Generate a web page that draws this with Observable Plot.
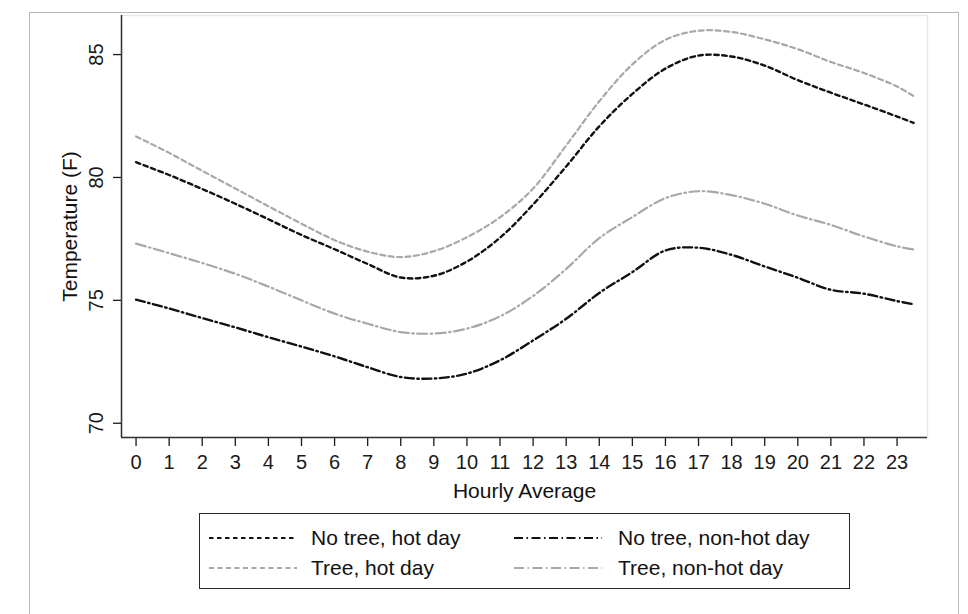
<!DOCTYPE html>
<html>
<head>
<meta charset="utf-8">
<script src="https://cdn.jsdelivr.net/npm/d3@7"></script>
<script src="https://cdn.jsdelivr.net/npm/@observablehq/plot@0.6"></script>
<style>
  html, body { margin: 0; padding: 0; background: #fff; overflow: hidden; }
  #wrap { position: relative; width: 968px; height: 614px; font-family: "Liberation Sans", Arial, Helvetica, sans-serif; }
  #border { position: absolute; left: 29px; top: 12px; width: 928px; height: 700px; border: 1.5px solid #b8b8b8; }
  #chart { position: absolute; left: 0; top: 0; }
  #legend { position: absolute; left: 199px; top: 513px; width: 649px; height: 74px; border: 1.4px solid #2a2a2a; background: #fff; }
  .item { position: absolute; font-size: 21px; color: #111; white-space: nowrap; }
</style>
</head>
<body>
<div id="wrap">
  <div id="border"></div>
  <div id="chart"></div>
  <div id="legend"></div>
</div>
<script>
// ---- data ----
const hours = [0,1,2,3,4,5,6,7,8,9,10,11,12,13,14,15,16,17,18,19,20,21,22,23,23.5];
const noTreeHot    = [80.62,80.10,79.53,78.93,78.30,77.66,77.08,76.48,75.93,76.00,76.58,77.55,78.90,80.45,82.08,83.40,84.43,84.96,84.92,84.55,83.96,83.45,82.97,82.48,82.22];
const noTreeNonHot = [75.03,74.67,74.28,73.90,73.50,73.12,72.72,72.28,71.88,71.82,72.02,72.56,73.37,74.25,75.30,76.15,77.03,77.14,76.85,76.38,75.92,75.43,75.27,74.97,74.84];
const treeHot      = [81.67,81.00,80.27,79.55,78.83,78.12,77.45,76.98,76.76,77.00,77.57,78.38,79.55,81.30,83.10,84.60,85.60,85.97,85.92,85.62,85.22,84.70,84.25,83.70,83.31];
const treeNonHot   = [77.31,76.92,76.52,76.08,75.56,75.00,74.46,74.05,73.71,73.65,73.85,74.35,75.18,76.28,77.53,78.39,79.16,79.44,79.28,78.93,78.45,78.07,77.60,77.20,77.07];
const seriesNames  = ["No tree, hot day", "No tree, non-hot day", "Tree, hot day", "Tree, non-hot day"];
const xTicks = [0,1,2,3,4,5,6,7,8,9,10,11,12,13,14,15,16,17,18,19,20,21,22,23];
const yTicks = [70,75,80,85];
const xTitle = "Hourly Average";
const yTitle = "Temperature (F)";
const xDomain = [-0.44, 23.92];
const yDomain = [69.42, 86.59];

// ---- styles per series ----
const styles = [
  {stroke: "#111", dash: "4.5,3.5", width: 2.4},
  {stroke: "#111", dash: "9,3.5,1.5,3.5", width: 2.4},
  {stroke: "#a8a8a8", dash: "5,3.5", width: 2.2},
  {stroke: "#a8a8a8", dash: "10,3.5,1.5,3.5", width: 2.2}
];
const seriesValues = [noTreeHot, noTreeNonHot, treeHot, treeNonHot];
const data = seriesValues.map((vals) => hours.map((h, i) => ({hour: h, temp: vals[i]})));

const lineMarks = data.map((d, i) => Plot.line(d, {
  x: "hour", y: "temp", stroke: styles[i].stroke, strokeWidth: styles[i].width,
  strokeDasharray: styles[i].dash, curve: "catmull-rom"
}));

const chart = Plot.plot({
  width: 968, height: 520,
  marginLeft: 121, marginRight: 41, marginTop: 15, marginBottom: 83,
  style: {background: "transparent", fontFamily: "'Liberation Sans', Arial, Helvetica, sans-serif", color: "#1a1a1a"},
  x: {domain: xDomain},
  y: {domain: yDomain},
  marks: [
    Plot.frame({stroke: "#e2eaee", strokeWidth: 1.5}),
    Plot.axisX({ticks: xTicks, tickSize: 9, tickPadding: 8, fontSize: 20, label: null, tickFormat: (d) => String(d), strokeWidth: 1.3}),
    Plot.axisY({ticks: yTicks, tickSize: 8, tickPadding: 11, tickRotate: -90, fontSize: 20, label: null, strokeWidth: 1.3}),
    Plot.ruleX([xDomain[0]], {stroke: "#333", strokeWidth: 1.5}),
    Plot.ruleY([yDomain[0]], {stroke: "#333", strokeWidth: 1.5}),
    ...lineMarks,
    Plot.text([xTitle], {text: (d) => d, frameAnchor: "bottom", dy: 60, lineAnchor: "bottom", fontSize: 21, fill: "#111"}),
    Plot.text([yTitle], {text: (d) => d, frameAnchor: "left", dx: -45, rotate: -90, textAnchor: "middle", lineAnchor: "bottom", fontSize: 21, fill: "#111"})
  ]
});
document.getElementById("chart").appendChild(chart);

// ---- legend ----
const legend = document.getElementById("legend");
const pos = [
  {sx: 9, tx: 111, cy: 24},
  {sx: 314, tx: 418, cy: 24},
  {sx: 9, tx: 111, cy: 54},
  {sx: 314, tx: 418, cy: 54}
];
seriesNames.forEach((name, i) => {
  const p = pos[i];
  const svg = document.createElementNS("http://www.w3.org/2000/svg", "svg");
  svg.setAttribute("width", 90); svg.setAttribute("height", 6);
  svg.style.position = "absolute"; svg.style.left = p.sx + "px"; svg.style.top = (p.cy - 3) + "px";
  const ln = document.createElementNS("http://www.w3.org/2000/svg", "line");
  ln.setAttribute("x1", 0); ln.setAttribute("x2", 88); ln.setAttribute("y1", 3); ln.setAttribute("y2", 3);
  ln.setAttribute("stroke", styles[i].stroke); ln.setAttribute("stroke-width", 2);
  ln.setAttribute("stroke-dasharray", styles[i].dash);
  svg.appendChild(ln);
  legend.appendChild(svg);
  const t = document.createElement("div");
  t.className = "item"; t.textContent = name;
  t.style.left = p.tx + "px"; t.style.top = (p.cy - 13) + "px"; t.style.lineHeight = "26px";
  legend.appendChild(t);
});
</script>
</body>
</html>
